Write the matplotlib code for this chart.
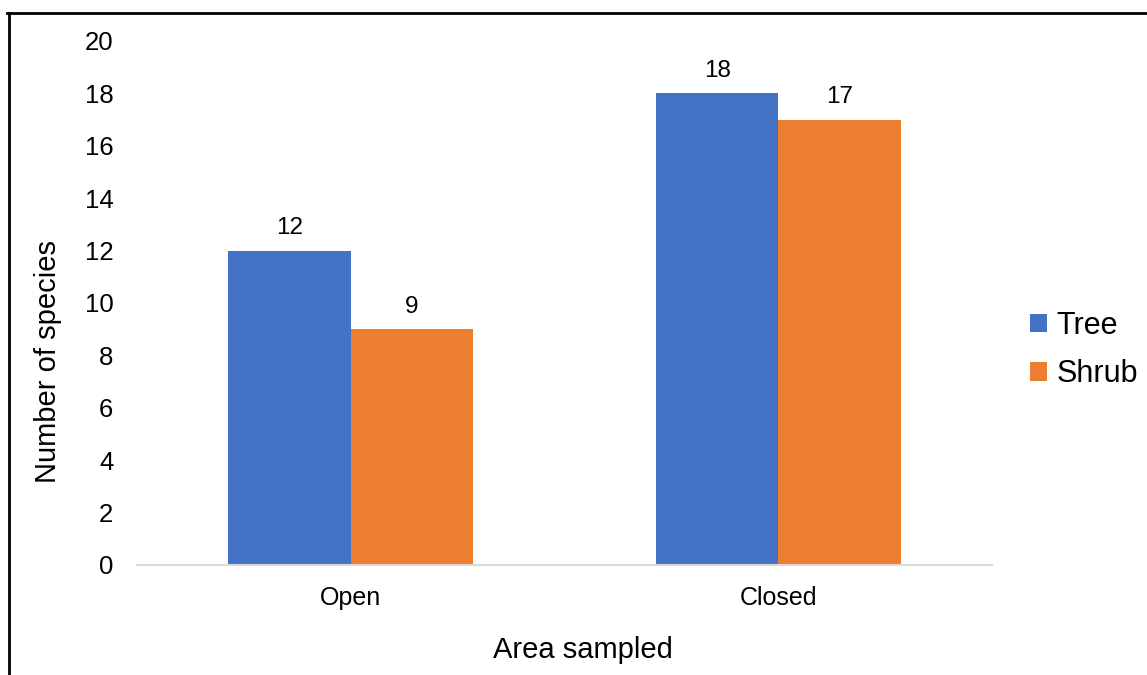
import numpy as np
import matplotlib
matplotlib.use("Agg")
import matplotlib.pyplot as plt
from matplotlib.lines import Line2D

# Species counts per sampled area
areas = ["Open", "Closed"]
tree = [12, 18]
shrub = [9, 17]
y_ticks = [0, 2, 4, 6, 8, 10, 12, 14, 16, 18, 20]

blue = "#4472C4"
orange = "#ED7D31"

plt.rcParams["font.family"] = ["Liberation Sans", "DejaVu Sans"]

fig = plt.figure(figsize=(11.47, 6.75), dpi=100)
ax = fig.add_axes([137 / 1147, 110 / 675, 855 / 1147, 524 / 675])

x = np.arange(len(areas))
w = 0.286
b1 = ax.bar(x - w / 2, tree, w, color=blue, label="Tree")
b2 = ax.bar(x + w / 2, shrub, w, color=orange, label="Shrub")

for bars, vals in [(b1, tree), (b2, shrub)]:
    for bar, v in zip(bars, vals):
        ax.annotate(str(v), (bar.get_x() + bar.get_width() / 2, v),
                    xytext=(0, 8), textcoords="offset points",
                    ha="center", va="bottom", fontsize=17.5)

ax.set_xlim(-0.5, 1.5)
ax.set_ylim(0, 20)
ax.set_xticks(x)
ax.set_xticklabels(areas)
ax.set_yticks(y_ticks)
ax.tick_params(axis="x", length=0, pad=15, labelsize=18)
ax.tick_params(axis="y", length=0, pad=17, labelsize=18.5)

for side in ["top", "right", "left"]:
    ax.spines[side].set_visible(False)
ax.spines["bottom"].set_color("#D9D9D9")
ax.spines["bottom"].set_linewidth(1.5)

ax.set_xlabel("Area sampled", fontsize=21, va="center")
ax.xaxis.set_label_coords(0.521, -0.162)
ax.set_ylabel("Number of species", fontsize=21, va="center")
ax.yaxis.set_label_coords(-0.104, 0.389)

leg = ax.legend(loc="center left", bbox_to_anchor=(1018 / 1147, 1 - 350 / 675),
                bbox_transform=fig.transFigure, frameon=False, fontsize=22,
                handlelength=0.55, handleheight=0.55, handletextpad=0.3,
                labelspacing=0.6, borderaxespad=0)

# outer frame: left and top edges only
fig.add_artist(Line2D([8.5 / 1147, 8.5 / 1147], [0, 1 - 12.5 / 675],
                      transform=fig.transFigure, color="black", lw=2))
fig.add_artist(Line2D([7.5 / 1147, 1], [1 - 12.5 / 675, 1 - 12.5 / 675],
                      transform=fig.transFigure, color="black", lw=2))

fig.savefig("out.png", dpi=100)
